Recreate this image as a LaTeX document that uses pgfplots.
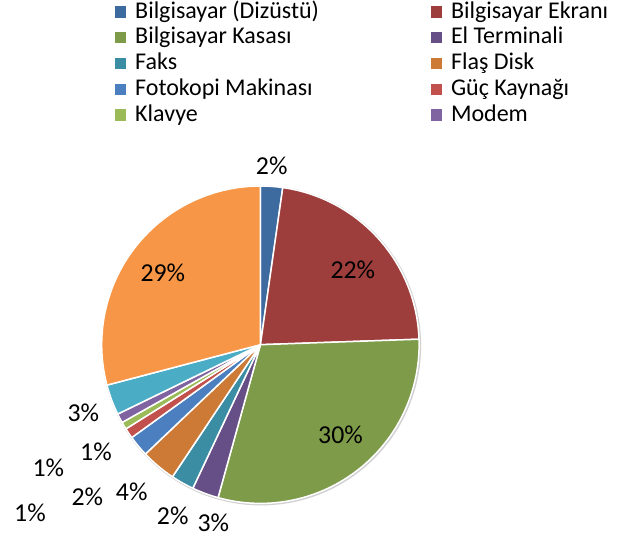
\documentclass[border=0pt]{standalone}
\usepackage{fontspec}
\setmainfont{Carlito}
\usepackage{pgfplots}
\usepackage{pgfplotstable}
\pgfplotsset{compat=1.18}

% slice colours (Excel: darker accents first, then plain accents)
\definecolor{c0}{HTML}{3E6B9F}
\definecolor{c1}{HTML}{9D3E3C}
\definecolor{c2}{HTML}{7E9B4A}
\definecolor{c3}{HTML}{664E86}
\definecolor{c4}{HTML}{3A8DA2}
\definecolor{c5}{HTML}{CC7A36}
\definecolor{c6}{HTML}{4B7FC0}
\definecolor{c7}{HTML}{C2504D}
\definecolor{c8}{HTML}{9BBB59}
\definecolor{c9}{HTML}{8064A2}
\definecolor{c10}{HTML}{4BACC6}
\definecolor{c11}{HTML}{F79646}

% share in percent; lx, ly = label position (picture pixels, y downwards)
\pgfplotstableread[col sep=comma]{
name,value,lx,ly
Bilgisayar (Dizüstü),2.25,271.7,165.7
Bilgisayar Ekranı,22.2,352.8,270.3
Bilgisayar Kasası,29.85,340.5,435.3
El Terminali,2.7,213.3,523.3
Faks,2.35,172.7,516.0
Flaş Disk,3.55,131.7,491.7
Fotokopi Makinası,2.15,87.3,496.7
Güç Kaynağı,1.05,30.0,513.3
Klavye,0.75,48.3,468.3
Modem,0.95,96.0,451.7
Tarayıcı,3.1,83.3,413.3
Yazıcı,29.1,162.8,273.0
}\piedata

% start/end angles of each slice, clockwise from the top
\def\cum{0}
\pgfplotsforeachungrouped \i in {0,...,11}{%
  \pgfplotstablegetelem{\i}{value}\of\piedata \let\v\pgfplotsretval
  \pgfmathsetmacro\sa{90-3.6*\cum}%
  \pgfmathsetmacro\cum{\cum+\v}%
  \pgfmathsetmacro\ea{90-3.6*\cum}%
  \pgfmathtruncatemacro\lb{round(\v)}%
  \expandafter\xdef\csname sa\i\endcsname{\sa}%
  \expandafter\xdef\csname ea\i\endcsname{\ea}%
  \expandafter\xdef\csname lb\i\endcsname{\lb}%
  \pgfplotstablegetelem{\i}{lx}\of\piedata
  \expandafter\xdef\csname lx\i\endcsname{\pgfplotsretval}%
  \pgfplotstablegetelem{\i}{ly}\of\piedata
  \expandafter\xdef\csname ly\i\endcsname{\pgfplotsretval}%
  \pgfplotstablegetelem{\i}{name}\of\piedata
  \expandafter\global\expandafter\let\csname nm\i\endcsname\pgfplotsretval
}

\newcommand{\legtext}[1]{\ifodd#1\relax\csname nm#1\endcsname
  \else\makebox[147.8bp][l]{\csname nm#1\endcsname}\fi}

\def\cx{260.4}
\def\cy{344.7}
\def\R{79.35bp}

\begin{document}
\begin{tikzpicture}
\begin{axis}[
  x=0.5bp, y=0.5bp, y dir=reverse,
  xmin=0, xmax=621, ymin=0, ymax=539,
  hide axis, clip=false,
  legend columns=2,
  legend cell align=left,
  legend style={draw=none, fill=none, at={(axis cs:115,0.7)}, anchor=north west,
    inner sep=0pt, outer sep=0pt,
    font=\fontsize{12bp}{14bp}\selectfont,
    nodes={inner sep=0pt, text height=8.8bp, text depth=2.5bp},
    row sep=1.55bp,
    /tikz/every odd column/.append style={column sep=4.5bp}},
]
\path (axis cs:0,0) rectangle (axis cs:621,539);

% faint shadow round the pie
\draw[black!18, line width=1.2bp] ([shift={(0.4bp,-0.4bp)}]axis cs:\cx,\cy) circle[radius=\R];

\pgfplotsinvokeforeach{0,...,11}{
  \fill[c#1, draw=white, line width=0.75bp, line join=round]
    (axis cs:\cx,\cy) -- ([shift={(\csname sa#1\endcsname:\R)}]axis cs:\cx,\cy)
    arc[start angle=\csname sa#1\endcsname, end angle=\csname ea#1\endcsname, radius=\R]
    -- cycle;
  \node[font=\fontsize{12.9bp}{15bp}\selectfont, inner sep=0pt]
    at (axis cs:\csname lx#1\endcsname,\csname ly#1\endcsname) {\csname lb#1\endcsname\%};
}

\pgfplotsinvokeforeach{0,...,9}{
  \addlegendimage{legend image code/.code={\fill[c#1] (0bp,-2.6bp) rectangle (5.2bp,2.6bp);}}
  \addlegendentry{\legtext{#1}}
}
\end{axis}
\end{tikzpicture}
\end{document}
